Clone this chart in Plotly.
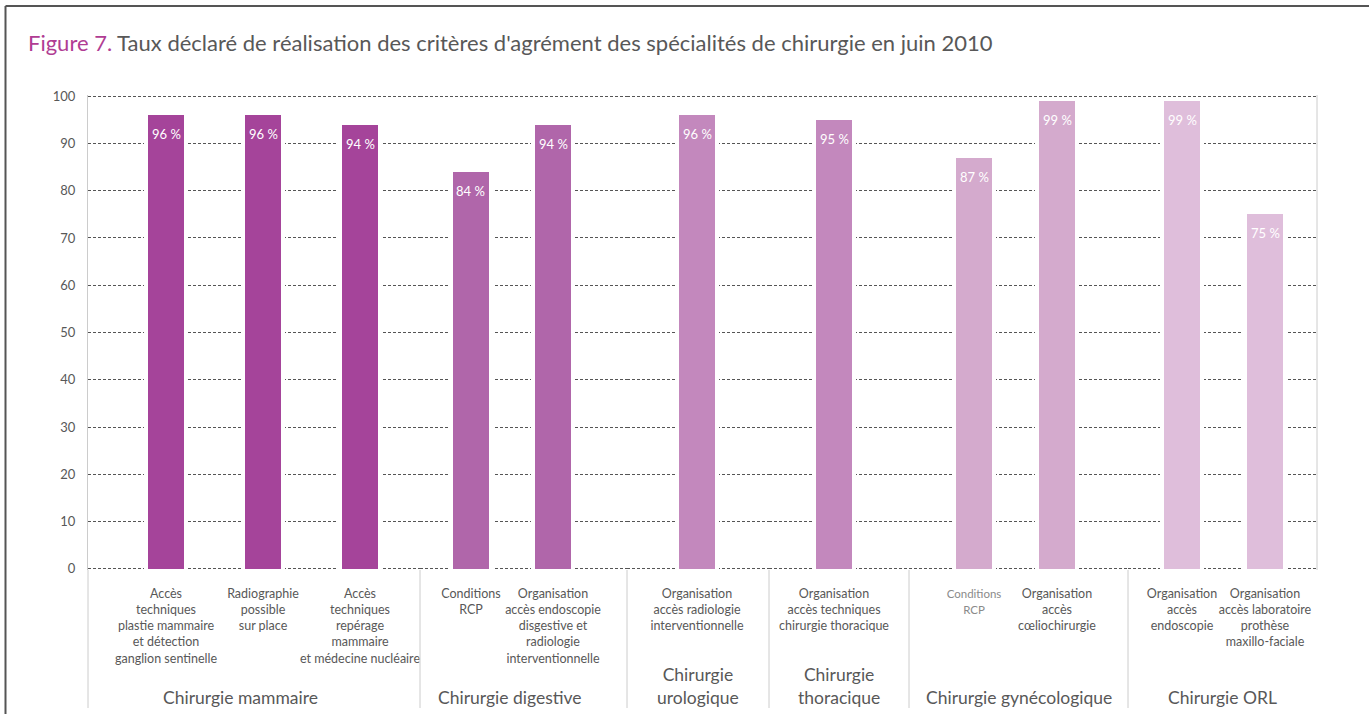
import plotly.graph_objects as go

# ---- data -------------------------------------------------------------
groups = [
    "Chirurgie mammaire",
    "Chirurgie digestive",
    "Chirurgie<br>urologique",
    "Chirurgie<br>thoracique",
    "Chirurgie gynécologique",
    "Chirurgie ORL",
]
criteria = [
    ["Accès<br>techniques<br>plastie mammaire<br>et détection<br>ganglion sentinelle",
     "Radiographie<br>possible<br>sur place",
     "Accès<br>techniques<br>repérage<br>mammaire<br>et médecine nucléaire"],
    ["Conditions<br>RCP",
     "Organisation<br>accès endoscopie<br>disgestive et<br>radiologie<br>interventionnelle"],
    ["Organisation<br>accès radiologie<br>interventionnelle"],
    ["Organisation<br>accès techniques<br>chirurgie thoracique"],
    ["Conditions<br>RCP",
     "Organisation<br>accès<br>cœliochirurgie"],
    ["Organisation<br>accès<br>endoscopie",
     "Organisation<br>accès laboratoire<br>prothèse<br>maxillo-faciale"],
]
rates = [
    [96, 96, 94],
    [84, 94],
    [96],
    [95],
    [87, 99],
    [99, 75],
]
colors = ["#a5449a", "#b066aa", "#c388bd", "#c388bd", "#d4aacd", "#dfbedb"]
y_ticks = [0, 10, 20, 30, 40, 50, 60, 70, 80, 90, 100]

# ---- geometry (pixels) -------------------------------------------------
W, H = 1369, 714
L, R, T, B = 88, 1317, 95, 570          # plot area
edges = [88, 420, 627, 769, 909, 1128, 1317]   # group boundaries
first_center = [166, 471, 697, 834, 974, 1182]  # first bar of each group
step = [97, 82, 90, 90, 83, 83]                 # px between bars in a group
group_label_pos = [0.46, 0.435, 0.5, 0.5, 0.5, 0.5]

pw, ph = R - L, B - T
def px(x):
    return (x - L) / pw
def py(y):
    return (B - y) / ph

FONT = "Lato, 'Open Sans', sans-serif"
GREY = "#585858"

fig = go.Figure()
annotations = []
layout = {}

for g in range(len(groups)):
    k = "" if g == 0 else str(g + 1)
    xname = "x" + k
    n = len(rates[g])
    idx = list(range(n))
    s = step[g]
    # white halo behind each bar, then the coloured bar
    fig.add_trace(go.Bar(x=idx, y=rates[g], xaxis=xname, yaxis="y",
                         width=44 / s, marker=dict(color="white", line=dict(width=0)),
                         hoverinfo="skip", showlegend=False))
    fig.add_trace(go.Bar(x=idx, y=rates[g], xaxis=xname, yaxis="y",
                         width=36 / s, marker=dict(color=colors[g], line=dict(width=0)),
                         name=groups[g].replace("<br>", " "), showlegend=False))
    for i, v in enumerate(rates[g]):
        annotations.append(dict(x=i, y=v, xref=xname, yref="y", text=f"{v} %",
                                showarrow=False, yanchor="top", yshift=-9,
                                font=dict(family=FONT, size=13, color="white")))
    ticktext = []
    for i, lab in enumerate(criteria[g]):
        if g == 4 and i == 0:
            ticktext.append(f"<span style='font-size:11.5px;fill:#8a8a8a'>{lab}</span>")
        else:
            ticktext.append(lab)
    lo = -(first_center[g] - edges[g]) / s
    hi = (edges[g + 1] - first_center[g]) / s
    layout["xaxis" + k] = dict(
        domain=[px(edges[g]), px(edges[g + 1])], anchor="y",
        range=[lo, hi], tickvals=idx, ticktext=ticktext, tickangle=0,
        showgrid=False, zeroline=False, showline=False, ticks="",
        ticklabelstandoff=14,
        tickfont=dict(family=FONT, size=12.5, color=GREY), fixedrange=True,
    )
    annotations.append(dict(xref=f"{xname} domain", yref="paper",
                            x=group_label_pos[g], y=py(710), yanchor="bottom",
                            xanchor="center", text=groups[g], showarrow=False,
                            font=dict(family=FONT, size=17.5, color=GREY)))

layout["yaxis"] = dict(
    domain=[0, 1], anchor="x", range=[-0.25, 100.25],
    tickvals=y_ticks, showgrid=True, gridcolor="#555555", griddash="3px,2px",
    gridwidth=1, zeroline=False, showline=True, linecolor="#cccccc", linewidth=1,
    ticks="", ticklabelstandoff=9,
    tickfont=dict(family=FONT, size=13, color=GREY),
)

# title
annotations.append(dict(
    xref="paper", yref="paper", x=px(26), y=py(42), xanchor="left", yanchor="middle",
    showarrow=False,
    text="<span style='fill:#b03c93'>Figure 7.</span> Taux déclaré de réalisation des "
         "critères d'agrément des spécialités de chirurgie en juin 2010",
    font=dict(family=FONT, size=22, color=GREY)))

shapes = []
# group separators under the axis
for e in edges[:-1]:
    shapes.append(dict(type="line", xref="paper", yref="paper",
                       x0=px(e), x1=px(e), y0=py(B), y1=py(708),
                       line=dict(color="#cccccc", width=1)))
# right border of plot area
shapes.append(dict(type="line", xref="paper", yref="paper",
                   x0=px(R), x1=px(R), y0=py(T), y1=py(B),
                   line=dict(color="#cccccc", width=1)))
# outer frame (left and top)
shapes.append(dict(type="line", xref="paper", yref="paper",
                   x0=px(5.5), x1=px(5.5), y0=py(6), y1=py(H + 5),
                   line=dict(color="#555555", width=2)))
shapes.append(dict(type="line", xref="paper", yref="paper",
                   x0=px(5.5), x1=px(W + 5), y0=py(6), y1=py(6),
                   line=dict(color="#555555", width=2)))

fig.update_layout(
    width=W, height=H,
    margin=dict(l=L, r=W - R, t=T, b=H - B, autoexpand=False),
    paper_bgcolor="white", plot_bgcolor="white",
    barmode="overlay", bargap=0,
    showlegend=False,
    annotations=annotations, shapes=shapes,
    **layout,
)

fig.write_html("out.html")
